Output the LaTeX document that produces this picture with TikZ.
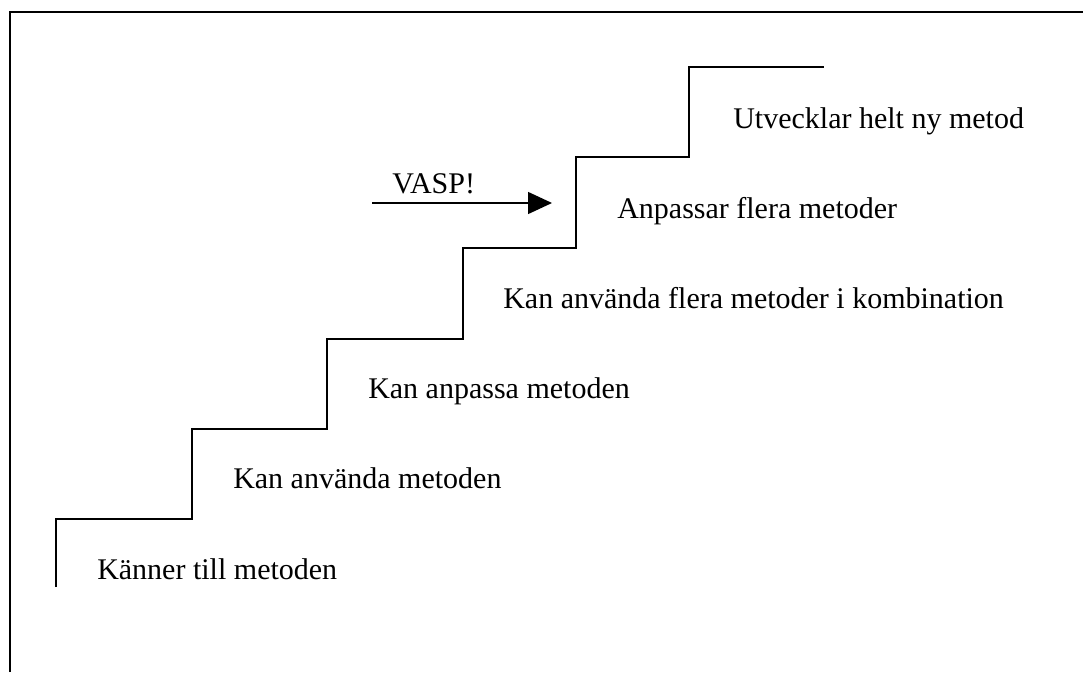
\documentclass[tikz,border=0pt]{standalone}
\usepackage{fontspec}
\setmainfont{Liberation Serif}
\usetikzlibrary{arrows.meta}
\begin{document}
\begin{tikzpicture}[x=0.75pt, y=-0.75pt,
  line join=miter,
  stairline/.style={line width=1.4pt},
  frameline/.style={line width=1.3pt},
  steplabel/.style={anchor=base west, inner sep=0pt,
    font=\fontsize{22.5pt}{27pt}\selectfont},
  pointer/.style={line width=1.1pt, -{Triangle[length=18pt, width=16.5pt]}}]
  \useasboundingbox (0,0) rectangle (1083,672);
  % open frame: left and top edges only
  \draw[frameline] (10,672) -- (10,12) -- (1083,12);
  % staircase
  \draw[stairline] (56,587) |- (192,519) |- (327,429) |- (463,339)
    |- (576,248) |- (689,157) |- (824,67);
  % labels on each step
  \node[steplabel] (s1) at (97,579) {Känner till metoden};
  \node[steplabel] (s2) at (233,488) {Kan använda metoden};
  \node[steplabel] (s3) at (368,398) {Kan anpassa metoden};
  \node[steplabel] (s4) at (503,308) {Kan använda flera metoder i kombination};
  \node[steplabel] (s5) at (617,218) {Anpassar flera metoder};
  \node[steplabel] (s6) at (733,128) {Utvecklar helt ny metod};
  % VASP! arrow
  \node[steplabel] (vasp) at (392,193) {VASP!};
  \coordinate (vstart) at (372,203);
  \coordinate (vend) at (552,203);
  \draw[pointer] (vstart) -- (vend);
\end{tikzpicture}
\end{document}
